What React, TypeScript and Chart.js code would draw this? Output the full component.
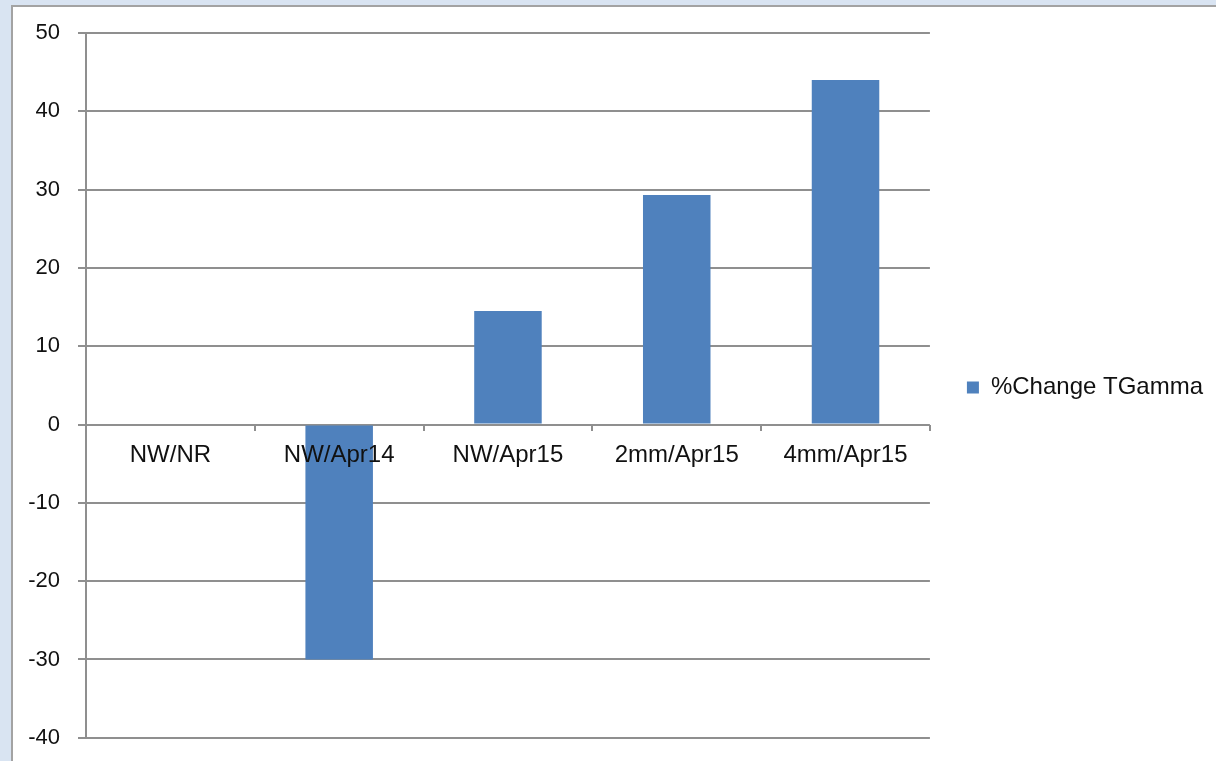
import React, { useEffect, useRef } from "react";
import { Chart, registerables } from "chart.js";

Chart.register(...registerables);

const categories = ["NW/NR", "NW/Apr14", "NW/Apr15", "2mm/Apr15", "4mm/Apr15"];
const changeTGamma = [0, -30, 14.5, 29.3, 44];
const seriesLabel = "%Change TGamma";
const yMin = -40;
const yMax = 50;
const yStep = 10;

const FONT = "'Liberation Sans', Arial, sans-serif";
const GRID = "#8f8f8f";
const TEXT = "#111111";
const BAR = "#4f81bd";

const legendShift = {
  id: "legendShift",
  afterLayout(chart: any) {
    const l = chart.legend;
    if (l) {
      l.top -= 6;
      l.bottom -= 6;
    }
  },
};

export default function App() {
  const ref = useRef<HTMLCanvasElement | null>(null);

  useEffect(() => {
    if (!ref.current) return;
    const chart = new Chart(ref.current, {
      type: "bar",
      data: {
        labels: categories,
        datasets: [
          {
            label: seriesLabel,
            data: changeTGamma,
            backgroundColor: BAR,
            borderWidth: 0,
            barPercentage: 0.4,
            categoryPercentage: 1,
          },
        ],
      },
      plugins: [legendShift],
      options: {
        animation: false,
        responsive: false,
        maintainAspectRatio: false,
        layout: { padding: { left: 0, top: 33, right: 3, bottom: 15 } },
        plugins: {
          tooltip: { enabled: false },
          legend: {
            position: "right",
            labels: {
              boxWidth: 12,
              boxHeight: 12,
              padding: 37,
              color: TEXT,
              font: { family: FONT, size: 24 },
            },
          },
        },
        scales: {
          x: {
            position: { y: 0 } as any,
            offset: true,
            grid: {
              display: true,
              drawOnChartArea: false,
              drawTicks: true,
              tickLength: 6,
              color: GRID,
              lineWidth: 2,
              offset: true,
            },
            border: { display: false },
            ticks: {
              z: 1,
              color: TEXT,
              font: { family: FONT, size: 24 },
              padding: 10,
              maxRotation: 0,
              autoSkip: false,
            },
          },
          y: {
            min: yMin,
            max: yMax,
            afterFit: (s: any) => {
              s.width = 86;
            },
            grid: {
              color: GRID,
              lineWidth: 2,
              tickLength: 8,
              drawTicks: true,
            },
            border: { display: true, color: GRID, width: 2 },
            ticks: {
              stepSize: yStep,
              color: TEXT,
              font: { family: FONT, size: 22 },
              padding: 18,
            },
          },
        },
      },
    });
    return () => chart.destroy();
  }, []);

  return (
    <div
      style={{
        position: "fixed",
        left: 0,
        top: 0,
        width: 1216,
        height: 761,
        overflow: "hidden",
        background: "#d9e4f2",
      }}
    >
      <div
        style={{
          position: "absolute",
          left: 11,
          top: 5,
          width: 1240,
          height: 800,
          border: "2px solid #a3a3a3",
          background: "#ffffff",
        }}
      />
      <canvas
        ref={ref}
        width={1216}
        height={769}
        style={{ position: "absolute", left: 0, top: 0, width: 1216, height: 769 }}
      />
    </div>
  );
}
